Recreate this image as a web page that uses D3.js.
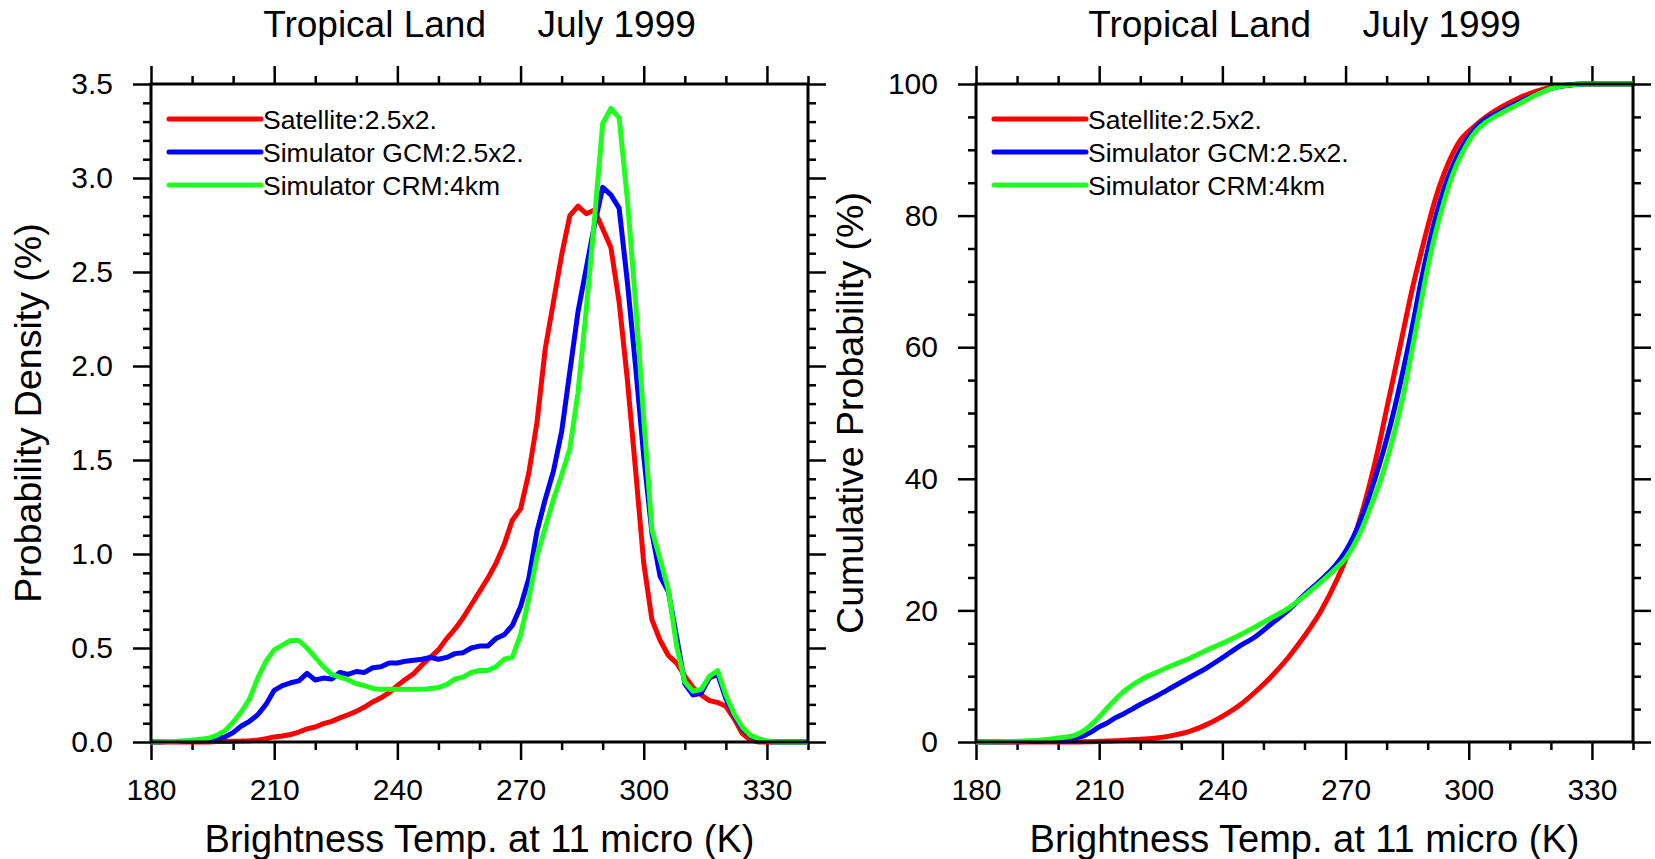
<!DOCTYPE html>
<html><head><meta charset="utf-8">
<script src="https://cdn.jsdelivr.net/npm/d3@7"></script>
<style>
html,body{margin:0;padding:0;background:#fff;}
svg{display:block;}
text{font-family:"Liberation Sans",Arial,Helvetica,sans-serif;fill:#000;}
</style>
</head><body>
<svg id="chart" width="1655" height="859"></svg>
<script>
// ---------------- DATA ----------------
const pdfTemps = [180,182,184,186,188,190,192,194,196,198,
  200,202,204,206,208,210,212,214,216,218,
  220,222,224,226,228,230,232,234,236,238,
  240,242,244,246,248,250,252,254,256,258,
  260,262,264,266,268,270,272,274,276,278,
  280,282,284,286,288,290,292,294,296,298,
  300,302,304,306,308,310,312,314,316,318,
  320,322,324,326,328,330,332,334,336,338,340];

const pdfSatellite = [0,0,0,0,0,0,0,0,0.002,0.003,
  0.004,0.005,0.007,0.010,0.018,0.027,0.032,0.040,0.053,0.070,
  0.080,0.098,0.110,0.128,0.145,0.163,0.186,0.213,0.235,0.263,
  0.300,0.334,0.364,0.410,0.450,0.490,0.550,0.600,0.660,0.730,
  0.800,0.870,0.950,1.050,1.180,1.240,1.430,1.700,2.090,2.340,
  2.590,2.800,2.850,2.810,2.830,2.730,2.630,2.340,1.930,1.450,
  0.950,0.650,0.540,0.460,0.420,0.350,0.290,0.250,0.220,0.210,
  0.190,0.125,0.045,0.010,0,0,0,0,0,0,0];

const pdfGCM = [0,0,0.002,0.003,0.004,0.005,0.007,0.010,0.020,0.027,
  0.050,0.085,0.110,0.145,0.200,0.275,0.300,0.315,0.325,0.365,
  0.330,0.340,0.335,0.370,0.360,0.375,0.370,0.395,0.400,0.420,
  0.420,0.430,0.435,0.440,0.450,0.440,0.450,0.470,0.475,0.500,
  0.510,0.510,0.550,0.570,0.620,0.720,0.870,1.120,1.290,1.440,
  1.650,1.970,2.290,2.520,2.750,2.950,2.910,2.840,2.450,2.000,
  1.520,1.110,0.880,0.800,0.560,0.310,0.250,0.260,0.340,0.360,
  0.230,0.140,0.070,0.030,0.014,0.003,0,0,0,0,0];

const pdfCRM = [0,0.001,0.002,0.003,0.005,0.010,0.015,0.020,0.035,0.060,
  0.105,0.160,0.230,0.340,0.430,0.490,0.515,0.540,0.540,0.500,
  0.450,0.400,0.360,0.345,0.330,0.310,0.300,0.285,0.280,0.280,
  0.280,0.280,0.280,0.280,0.285,0.290,0.305,0.335,0.345,0.370,
  0.380,0.380,0.400,0.440,0.450,0.570,0.760,0.990,1.140,1.290,
  1.420,1.560,1.860,2.300,2.780,3.290,3.370,3.320,2.890,2.340,
  1.720,1.130,0.970,0.810,0.510,0.320,0.270,0.280,0.350,0.380,
  0.250,0.150,0.080,0.035,0.018,0.005,0,0,0,0,0];

const cdfTemps = [180,190,196,200,204,206,208,210,212,214,216,218,220,224,228,232,236,240,244,248,
  252,256,260,264,268,270,272,274,276,278,280,282,284,286,288,290,292,294,296,298,
  300,302,304,308,312,316,320,324,328,340];

const cdfSatellite = [0,0,0,0,0,0.02,0.05,0.1,0.15,0.2,0.28,0.35,0.4,0.6,1.0,1.6,2.6,3.9,5.5,7.6,
  10.0,12.8,16.1,19.9,24.8,27.7,31.0,34.9,39.5,44.7,50.6,56.4,62.3,68.2,73.4,78.3,82.8,86.4,89.3,91.5,
  92.8,93.9,94.9,96.5,97.8,98.8,99.5,99.8,100,100];

const cdfGCM = [0,0.05,0.2,0.4,0.6,0.9,1.5,2.3,2.9,3.7,4.3,5.0,5.7,7.0,8.4,9.8,11.2,12.8,14.5,16.0,
  18.0,20.0,22.4,24.6,27.2,29.0,31.3,34.2,37.8,41.7,46.0,50.9,56.4,62.3,68.8,74.7,79.9,84.1,87.4,90.0,
  92.0,93.5,94.6,95.9,97.2,98.3,99.3,99.8,100,100];

const cdfCRM = [0,0.1,0.3,0.6,1.0,1.6,2.6,3.8,5.2,6.5,7.7,8.6,9.4,10.6,11.7,12.7,13.9,15.0,16.2,17.5,
  18.9,20.3,22.2,24.3,26.6,27.9,29.9,32.4,35.6,38.8,42.7,47.3,52.5,59.0,65.6,72.1,77.6,82.2,86.1,89.0,
  91.3,93.0,94.1,95.6,96.9,98.2,99.3,99.8,100,100];

const seriesNames = ["Satellite:2.5x2.", "Simulator GCM:2.5x2.", "Simulator CRM:4km"];
const seriesColors = ["#ff0000", "#0000ff", "#1eff1e"];

const titleText = "Tropical Land     July 1999";
const xTitleText = "Brightness Temp. at 11 micro (K)";
const pdfYTitle = "Probability Density (%)";
const cdfYTitle = "Cumulative Probability (%)";

const xMajorTicks = [180,210,240,270,300,330];
const xMinorTicks = [190,200,220,230,250,260,280,290,310,320,340];
const pdfYMajorTicks = [0,0.5,1.0,1.5,2.0,2.5,3.0,3.5];
const pdfYMinorTicks = [0.1,0.2,0.3,0.4,0.6,0.7,0.8,0.9,1.1,1.2,1.3,1.4,1.6,1.7,1.8,1.9,2.1,2.2,2.3,2.4,2.6,2.7,2.8,2.9,3.1,3.2,3.3,3.4];
const cdfYMajorTicks = [0,20,40,60,80,100];
const cdfYMinorTicks = [5,10,15,25,30,35,45,50,55,65,70,75,85,90,95];

// ---------------- DRAW ----------------
const svg = d3.select("#chart");
svg.append("rect").attr("width",1655).attr("height",859).attr("fill","#fff");

function drawPanel(cfg){
  const {left, top, width, height} = cfg;
  const g = svg.append("g").attr("transform",`translate(${left},${top})`);
  const x = d3.scaleLinear().domain([180,340]).range([0,width]);
  const y = d3.scaleLinear().domain(cfg.yDomain).range([height,0]);

  const MAJ = 18, MIN = 8;
  function styleAxis(sel){
    sel.select(".domain").remove();
    sel.selectAll(".tick line").attr("stroke","#000").attr("stroke-width",2.5);
    sel.selectAll("text").attr("font-size",30).attr("fill","#000")
       .attr("font-family","Liberation Sans, Arial, Helvetica, sans-serif");
  }
  // bottom
  g.append("g").attr("transform",`translate(0,${height})`)
    .call(d3.axisBottom(x).tickValues(xMajorTicks).tickSize(MAJ).tickPadding(19).tickFormat(d3.format("d")))
    .call(styleAxis);
  g.append("g").attr("transform",`translate(0,${height})`)
    .call(d3.axisBottom(x).tickValues(xMinorTicks).tickSize(MIN).tickFormat(""))
    .call(styleAxis);
  // top
  g.append("g")
    .call(d3.axisTop(x).tickValues(xMajorTicks).tickSize(MAJ).tickFormat(""))
    .call(styleAxis);
  g.append("g")
    .call(d3.axisTop(x).tickValues(xMinorTicks).tickSize(MIN).tickFormat(""))
    .call(styleAxis);
  // left
  g.append("g")
    .call(d3.axisLeft(y).tickValues(cfg.yMajor).tickSize(MAJ).tickPadding(20).tickFormat(cfg.yFormat))
    .call(styleAxis);
  g.append("g")
    .call(d3.axisLeft(y).tickValues(cfg.yMinor).tickSize(MIN).tickFormat(""))
    .call(styleAxis);
  // right
  g.append("g").attr("transform",`translate(${width},0)`)
    .call(d3.axisRight(y).tickValues(cfg.yMajor).tickSize(MAJ).tickFormat(""))
    .call(styleAxis);
  g.append("g").attr("transform",`translate(${width},0)`)
    .call(d3.axisRight(y).tickValues(cfg.yMinor).tickSize(MIN).tickFormat(""))
    .call(styleAxis);

  // curves
  const line = d3.line().x(d=>x(d[0])).y(d=>y(d[1])).curve(cfg.curve);
  cfg.series.forEach((vals,i)=>{
    const pts = cfg.xs.map((t,j)=>[t, vals[j]]);
    g.append("path").datum(pts).attr("d",line)
      .attr("fill","none").attr("stroke",seriesColors[i])
      .attr("stroke-width",5).attr("stroke-linejoin","round");
  });

  // frame
  g.append("rect").attr("x",0).attr("y",0).attr("width",width).attr("height",height)
    .attr("fill","none").attr("stroke","#000").attr("stroke-width",3);

  // legend
  seriesNames.forEach((name,i)=>{
    const ly = 35 + 33*i;
    g.append("line").attr("x1",18).attr("x2",110).attr("y1",ly).attr("y2",ly)
      .attr("stroke",seriesColors[i]).attr("stroke-width",5).attr("stroke-linecap","round");
    g.append("text").attr("x",112).attr("y",ly+9.5).attr("font-size",26.5).text(name);
  });

  // title
  g.append("text").attr("x",width/2).attr("y",37-top).attr("text-anchor","middle")
    .attr("font-size",37).style("white-space","pre").text(titleText);
  // x title
  g.append("text").attr("x",width/2).attr("y",852-top).attr("text-anchor","middle")
    .attr("font-size",38).text(xTitleText);
  // y title
  g.append("text").attr("transform",`translate(${cfg.yTitleX - left},${height/2}) rotate(-90)`)
    .attr("text-anchor","middle").attr("font-size",37.5).text(cfg.yTitle);
}

drawPanel({left:151, top:84, width:657, height:658,
  yDomain:[0,3.5], yMajor:pdfYMajorTicks, yMinor:pdfYMinorTicks, yFormat:d3.format(".1f"),
  yTitle:pdfYTitle, yTitleX:41, xs:pdfTemps, series:[pdfSatellite,pdfGCM,pdfCRM], curve:d3.curveLinear});

drawPanel({left:976, top:84, width:657, height:658,
  yDomain:[0,100], yMajor:cdfYMajorTicks, yMinor:cdfYMinorTicks, yFormat:d3.format("d"),
  yTitle:cdfYTitle, yTitleX:863, xs:cdfTemps, series:[cdfSatellite,cdfGCM,cdfCRM], curve:d3.curveMonotoneX});
</script>
</body></html>
